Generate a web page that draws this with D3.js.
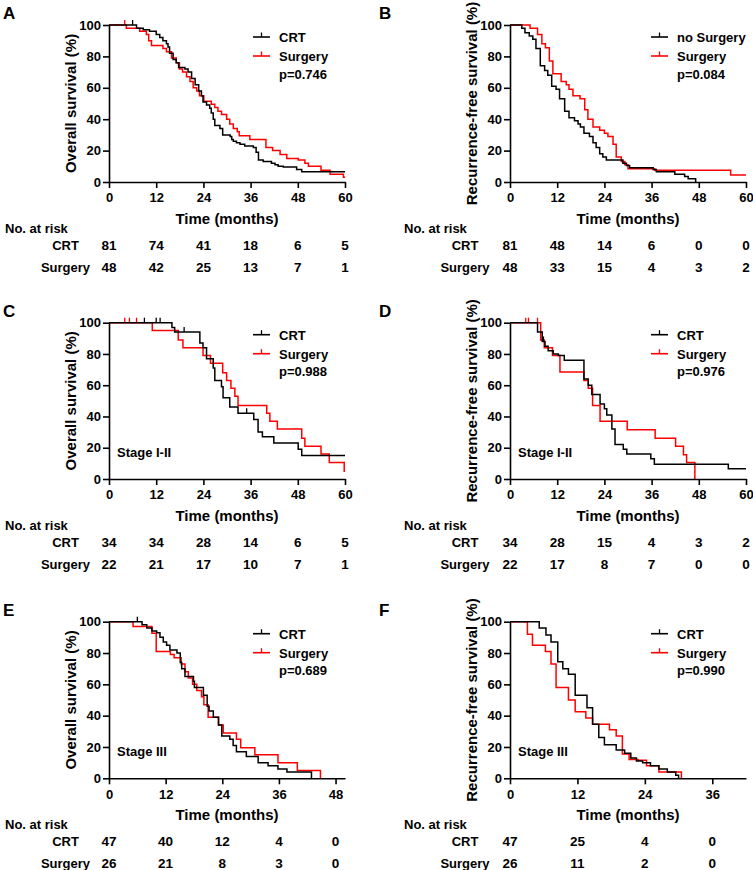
<!DOCTYPE html>
<html><head><meta charset="utf-8">
<script src="https://cdn.jsdelivr.net/npm/d3@7"></script>
<style>
body{margin:0;background:#fff}
svg{display:block}
text{font-family:Arial,"Liberation Sans",Helvetica,sans-serif;font-weight:bold;fill:#000}
</style>
</head><body>
<svg id="chart" width="753" height="870"></svg>
<script>
// ---------------- DATA ----------------
const groupNames = ["CRT", "Surgery"];
const groupNamesB = ["no Surgery", "Surgery"];
const ticks60 = [0, 12, 24, 36, 48, 60];
const ticks48 = [0, 12, 24, 36, 48];
const ticks36 = [0, 12, 24, 36];
const yTicks = [0, 20, 40, 60, 80, 100];

// Panel A: overall survival, all patients  [time (months), survival %]
const osAllCRT = [[0,100],[7,98],[8.7,97],[10.3,96],[12,94],[12.9,92],[13.7,90],[14.6,88],[15,86],[15.4,82],[16.3,78],[17.1,76],[17.7,73],[19.3,72],[20.1,70],[21,66],[21.9,62],[22.8,58],[23.5,55],[23.9,51],[24.8,49],[25.6,47],[26,44],[26.5,40],[26.9,36],[28.2,34],[28.9,30],[30.8,29],[31.2,27],[31.6,26],[32.4,25],[33.3,24],[34.5,23],[36.7,22],[37.4,19],[38,14],[39.2,13],[41.3,12],[42.2,11],[43,10],[44.3,9.5],[47.7,8],[49,6.5],[60,6.5]];
const osAllSurg = [[0,100],[4.4,98],[7.8,96],[9.5,94],[10.1,90],[10.8,87],[13.7,85],[14.6,83],[15.9,79],[17.1,76],[17.9,72],[18.7,70],[19.7,67],[20.6,64],[21.4,60],[22.3,58],[23,55],[24.1,51.5],[26,49.5],[26.9,47.5],[27.7,45],[28.6,43],[29.9,40],[30.7,37],[31.6,34],[32.6,32],[33.1,29.5],[35.8,27],[39.9,22],[41.6,20],[43.5,17.5],[45.2,15],[48.1,14],[49.8,12],[50.7,10],[53.9,7.5],[56.2,5],[59.6,3],[60,3]];
const osAllCRTCens = [6];
const osAllSurgCens = [4];
const riskA_CRT = [81, 74, 41, 18, 6, 5];
const riskA_Surg = [48, 42, 25, 13, 7, 1];

// Panel B: recurrence-free survival, all patients
const rfsAllCRT = [[0,100],[3,98],[3.8,95],[4.9,93],[5.8,91],[6.6,85],[7.7,74],[8.8,71],[9.6,68],[10.6,61],[11.7,59],[12.6,53],[13.9,45],[15,41],[16.4,39],[17.3,37],[17.9,35],[18.8,31],[20.2,29],[21.1,25],[21.9,22],[22.8,18],[23.6,16],[24.5,14],[28.7,12],[29.6,10.5],[30.4,9],[36.4,8],[37.2,6.5],[41.9,5],[44.4,3.5],[45.3,2],[47.2,0]];
const rfsAllSurg = [[0,100],[5.1,98],[7,94],[8.1,88],[9,85.5],[10,77],[10.9,69],[13,64],[14.3,62],[15,59],[16,55],[17.8,53],[19,46],[19.8,40],[21.1,35],[22.8,33],[24,31],[24.9,29],[26.2,24],[27,16],[28.3,13],[29.2,11],[30,8.5],[36.8,7.5],[56.1,4.5],[60,4.5]];
const riskB_CRT = [81, 48, 14, 6, 0, 0];
const riskB_Surg = [48, 33, 15, 4, 3, 2];

// Panel C: overall survival, stage I-II
const osS12CRT = [[0,100],[16,97],[16.7,94],[23.1,87],[23.9,84],[24.8,77],[26.5,71],[26.9,63],[28.6,59],[29,52],[30.7,46],[32.8,42],[36.8,38],[37.9,30],[39,27],[41.9,23],[48.1,19],[49,15],[60,15]];
const osS12Surg = [[0,100],[11,95],[17.6,89],[18.8,84],[23.9,79],[25.8,74],[28.9,68],[29.9,63],[31,58],[32,53],[32.8,47],[40.1,42],[40.9,37],[42.8,32],[49,26],[49.8,21],[53.9,16],[56,10.5],[59.8,5],[60,5]];
const osS12CRTCens = [9, 12, 13, 19.1, 35];
const osS12SurgCens = [4, 5.2, 7];
const riskC_CRT = [34, 34, 28, 14, 6, 5];
const riskC_Surg = [22, 21, 17, 10, 7, 1];

// Panel D: recurrence-free survival, stage I-II
const rfsS12CRT = [[0,100],[7,94],[8.2,88],[8.9,85],[9.7,82],[11,80],[12.3,79],[13.8,76],[18.8,64],[19.9,60],[20.8,54],[22.9,48],[24,45],[24.6,41],[25.9,32],[26.7,22],[28.8,19],[29.7,16],[35.8,13],[36.7,9.5],[55.5,6.5],[60,6.5]];
const rfsS12Surg = [[0,100],[7.8,89],[8.7,84],[10.8,79],[12.7,68.5],[18.8,63],[19.9,58],[21,47],[22.9,37],[29.8,31.5],[36.9,26],[42.1,21],[44.1,15.5],[44.9,10.5],[47,0]];
const rfsS12CRTCens = [8.5];
const rfsS12SurgCens = [4, 4.7, 7];
const riskD_CRT = [34, 28, 15, 4, 3, 2];
const riskD_Surg = [22, 17, 8, 7, 0, 0];

// Panel E: overall survival, stage III
const osS3CRT = [[0,100],[7,98],[8,96],[9.1,94],[10.1,93],[10.8,90],[11.5,87],[12.2,85],[12.9,82],[14.4,80],[15.1,74],[15.4,70],[16.1,65],[17.9,62],[18.1,58],[20,53],[20.8,46],[21.2,43],[22.1,39],[23.2,34],[23.9,27],[25.6,25],[26.3,21],[27,17],[29.1,14],[31.6,10],[33.7,8],[35.8,6],[37.7,4],[42.9,0]];
const osS3Surg = [[0,100],[5.1,97],[9.1,92.6],[10,81],[13,79],[13.8,77],[15.3,73],[16.1,68],[16.8,64],[17.7,60],[18.6,56],[19.6,52],[20.1,47],[21,39],[23.2,34],[24.2,29],[27,25],[27.9,19.5],[30.9,15],[35.8,10],[39.9,5],[44.8,0]];
const osS3CRTCens = [6];
const riskE_CRT = [47, 40, 12, 4, 0];
const riskE_Surg = [26, 21, 8, 3, 0];

// Panel F: recurrence-free survival, stage III
const rfsS3CRT = [[0,100],[5.2,96],[6.4,91.5],[7.3,87],[8.5,74.5],[9.4,70],[10.4,66.5],[11.6,53],[13.7,45],[14.7,34.5],[15.8,26],[16.8,21.5],[18.9,18],[20.4,16],[21.5,13],[22.5,11],[23.6,10],[25,8],[26.5,6],[28,4],[29.5,2],[30,0]];
const rfsS3Surg = [[0,100],[3.1,92],[4,85],[6.3,81],[7.3,73],[8.2,58],[10.4,50],[11.6,42.5],[13.5,38.5],[14.7,34.5],[17.7,31],[18.9,27],[20,15.5],[21.2,12],[22.8,11.5],[24.3,8],[26.5,4],[30.5,0]];
const riskF_CRT = [47, 25, 4, 0];
const riskF_Surg = [26, 11, 2, 0];

const pValues = ["p=0.746", "p=0.084", "p=0.988", "p=0.976", "p=0.689", "p=0.990"];
const yTitles = ["Overall survival (%)", "Recurrence-free survival (%)"];
const stageLabels = ["", "Stage I-II", "Stage III"];
const panelLetters = ["A", "B", "C", "D", "E", "F"];

// ---------------- LAYOUT ----------------
const svg = d3.select("#chart");
const rowTop = [25, 322.7, 621.7];
const rowBot = [182, 479, 778.3];
const colLeft = [109, 510];
const colW = 236;
const RED = "#ff0000", BLACK = "#000000";

const panels = [
  {row:0, col:0, xMax:60, ticks:ticks60, g1:osAllCRT, g2:osAllSurg, c1:osAllCRTCens, c2:osAllSurgCens, r1:riskA_CRT, r2:riskA_Surg, names:groupNames, title:yTitles[0], stage:stageLabels[0]},
  {row:0, col:1, xMax:60, ticks:ticks60, g1:rfsAllCRT, g2:rfsAllSurg, c1:[], c2:[], r1:riskB_CRT, r2:riskB_Surg, names:groupNamesB, title:yTitles[1], stage:stageLabels[0]},
  {row:1, col:0, xMax:60, ticks:ticks60, g1:osS12CRT, g2:osS12Surg, c1:osS12CRTCens, c2:osS12SurgCens, r1:riskC_CRT, r2:riskC_Surg, names:groupNames, title:yTitles[0], stage:stageLabels[1]},
  {row:1, col:1, xMax:60, ticks:ticks60, g1:rfsS12CRT, g2:rfsS12Surg, c1:rfsS12CRTCens, c2:rfsS12SurgCens, r1:riskD_CRT, r2:riskD_Surg, names:groupNames, title:yTitles[1], stage:stageLabels[1]},
  {row:2, col:0, xMax:50, ticks:ticks48, g1:osS3CRT, g2:osS3Surg, c1:osS3CRTCens, c2:[], r1:riskE_CRT, r2:riskE_Surg, names:groupNames, title:yTitles[0], stage:stageLabels[2]},
  {row:2, col:1, xMax:42, ticks:ticks36, g1:rfsS3CRT, g2:rfsS3Surg, c1:[], c2:[], r1:riskF_CRT, r2:riskF_Surg, names:groupNames, title:yTitles[1], stage:stageLabels[2]}
];

function survAt(data, t){
  let s = 100;
  for (const [tt, v] of data){ if (tt <= t) s = v; else break; }
  return s;
}

panels.forEach((p, i) => {
  const x0 = colLeft[p.col], x1 = x0 + colW;
  const yT = rowTop[p.row], yB = rowBot[p.row];
  const x = d3.scaleLinear().domain([0, p.xMax]).range([x0, x1]);
  const y = d3.scaleLinear().domain([0, 100]).range([yB, yT]);
  const g = svg.append("g");

  // panel letter
  g.append("text").attr("x", p.col === 0 ? 3 : 379).attr("y", yT - 6 - (p.row===0?0:0))
    .attr("font-size", 17).text(panelLetters[i]);

  // curves (red under black)
  const line = d3.line().x(d => x(d[0])).y(d => y(d[1])).curve(d3.curveStepAfter);
  [[p.g2, p.c2, RED], [p.g1, p.c1, BLACK]].forEach(([data, cens, col]) => {
    g.append("path").datum(data).attr("d", line).attr("fill", "none")
      .attr("stroke", col).attr("stroke-width", 1.5);
    g.selectAll(null).data(cens).enter().append("line")
      .attr("x1", d => x(d)).attr("x2", d => x(d))
      .attr("y1", d => y(survAt(data, d))).attr("y2", d => y(survAt(data, d)) - 5)
      .attr("stroke", col).attr("stroke-width", 1.3);
  });

  // axes
  const xa = g.append("g").attr("transform", `translate(0,${yB})`)
    .call(d3.axisBottom(x).tickValues(p.ticks).tickSize(6).tickSizeOuter(0).tickPadding(5));
  const ya = g.append("g").attr("transform", `translate(${x0},0)`)
    .call(d3.axisLeft(y).tickValues(yTicks).tickSize(6).tickSizeOuter(0).tickPadding(2));
  [xa, ya].forEach(a => {
    a.select(".domain").attr("stroke", "#000").attr("stroke-width", 1.6);
    a.selectAll(".tick line").attr("stroke", "#000").attr("stroke-width", 1.6);
    a.selectAll(".tick text").attr("font-size", 13).attr("font-family", null).attr("fill", "#000");
  });

  // y title
  const cy = (yT + yB) / 2;
  g.append("text").attr("transform", `translate(${x0 - 33},${cy}) rotate(-90)`)
    .attr("text-anchor", "middle").attr("font-size", 15).text(p.title);

  // x title
  g.append("text").attr("x", x0 + colW / 2).attr("y", yB + 41.5)
    .attr("text-anchor", "middle").attr("font-size", 15).text("Time (months)");

  // legend
  const lx0 = x0 + (p.col === 0 ? 144 : 141), lx1 = lx0 + 17, tx = lx0 + 26;
  [[p.names[0], BLACK, yT + 12], [p.names[1], RED, yT + 31]].forEach(([name, col, ly]) => {
    g.append("line").attr("x1", lx0).attr("x2", lx1).attr("y1", ly).attr("y2", ly)
      .attr("stroke", col).attr("stroke-width", 1.6);
    g.append("line").attr("x1", (lx0 + lx1) / 2).attr("x2", (lx0 + lx1) / 2).attr("y1", ly).attr("y2", ly - 4.5)
      .attr("stroke", col).attr("stroke-width", 1.3);
    g.append("text").attr("x", tx).attr("y", ly + 5).attr("font-size", 13).text(name);
  });
  g.append("text").attr("x", tx).attr("y", yT + 53.5).attr("font-size", 13).text(pValues[i]);

  // stage label
  if (p.stage) g.append("text").attr("x", x0 + 8).attr("y", yB - 22).attr("font-size", 13).text(p.stage);

  // risk table
  const labX = p.col === 0 ? 5 : 404, rowLabX = p.col === 0 ? 65.5 : 465;
  g.append("text").attr("x", labX).attr("y", yB + 50.5).attr("font-size", 13).text("No. at risk");
  [[groupNames[0], p.r1, yB + 67.5], [groupNames[1], p.r2, yB + 89.5]].forEach(([name, vals, by]) => {
    g.append("text").attr("x", rowLabX).attr("y", by).attr("text-anchor", "middle").attr("font-size", 13).text(name);
    g.selectAll(null).data(vals).enter().append("text")
      .attr("x", (d, k) => x(p.ticks[k])).attr("y", by).attr("text-anchor", "middle")
      .attr("font-size", 13.5).text(d => d);
  });
});
</script>
</body></html>
